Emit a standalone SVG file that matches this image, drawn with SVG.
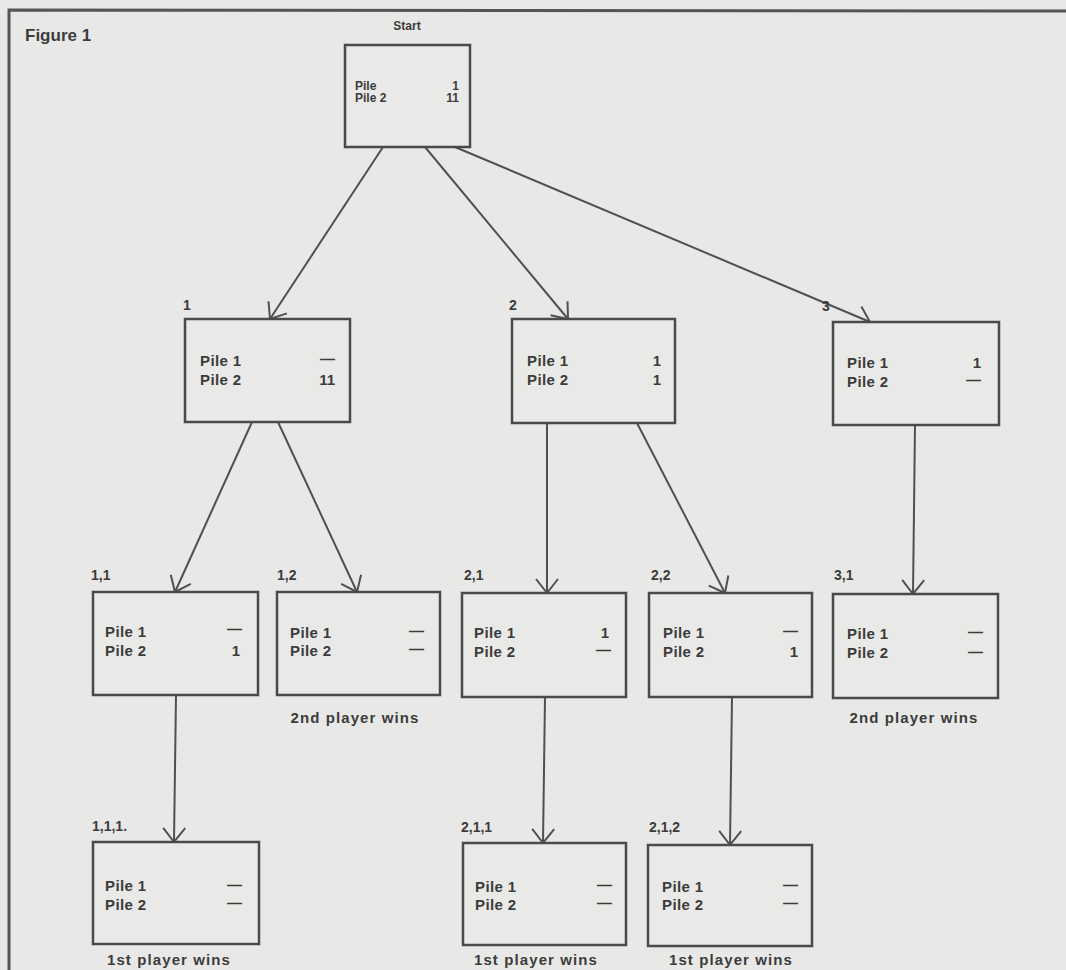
<svg xmlns="http://www.w3.org/2000/svg" width="1066" height="970" viewBox="0 0 1066 970">
<style>
.bg{fill:#e8e8e6}
.frame{fill:none;stroke:#555;stroke-width:3}
.box{fill:#e9e9e7;stroke:#4a4a4a;stroke-width:2.5}
.t{font-family:"Liberation Sans",Arial,sans-serif;font-weight:bold;fill:#3c3c3c}
.pile{font-size:15px;letter-spacing:0.4px}
.small{font-size:12px}
.num{font-size:15px;text-anchor:end}
.lab{font-size:14px}
.win{font-size:15px;letter-spacing:1.1px;text-anchor:middle}
.conn{fill:none;stroke:#505050;stroke-width:2}
</style>
<defs>
<marker id="arr" markerUnits="userSpaceOnUse" markerWidth="18" markerHeight="26" viewBox="0 0 18 26" refX="16" refY="13" orient="auto">
<path d="M2,2 L16,13 L2,24" fill="none" stroke="#505050" stroke-width="2"/>
</marker>
</defs>
<rect class="bg" x="0" y="0" width="1066" height="970"/>
<path class="frame" d="M9,972 L9,10 L1068,11"/>
<text class="t" x="25" y="41" font-size="17">Figure 1</text>

<g id="connectors">
<line class="conn" x1="383" y1="147" x2="270" y2="319" marker-end="url(#arr)"/>
<line class="conn" x1="425" y1="147" x2="568" y2="319" marker-end="url(#arr)"/>
<line class="conn" x1="455" y1="147" x2="870" y2="322" marker-end="url(#arr)"/>
<line class="conn" x1="252" y1="422" x2="175" y2="592" marker-end="url(#arr)"/>
<line class="conn" x1="278" y1="422" x2="357" y2="592" marker-end="url(#arr)"/>
<line class="conn" x1="547" y1="423" x2="547" y2="593" marker-end="url(#arr)"/>
<line class="conn" x1="637" y1="423" x2="725" y2="593" marker-end="url(#arr)"/>
<line class="conn" x1="915" y1="425" x2="913" y2="594" marker-end="url(#arr)"/>
<line class="conn" x1="176" y1="695" x2="174" y2="842" marker-end="url(#arr)"/>
<line class="conn" x1="545" y1="697" x2="543" y2="843" marker-end="url(#arr)"/>
<line class="conn" x1="732" y1="697" x2="730" y2="845" marker-end="url(#arr)"/>
</g>

<g id="start">
<text class="t small" x="407" y="30" text-anchor="middle">Start</text>
<rect class="box" x="345" y="45" width="125" height="102"/>
<text class="t small" x="355" y="90">Pile</text>
<text class="t small" x="355" y="102">Pile 2</text>
<text class="t small" x="459" y="90" text-anchor="end">1</text>
<text class="t small" x="459" y="102" text-anchor="end">11</text>
</g>

<g id="n1">
<text class="t lab" x="183" y="310">1</text>
<rect class="box" x="185" y="319" width="165" height="103"/>
<text class="t pile" x="200" y="366">Pile 1</text>
<text class="t pile" x="200" y="385">Pile 2</text>
<text class="t num" x="335" y="364">—</text>
<text class="t num" x="335" y="385">11</text>
</g>

<g id="n2">
<text class="t lab" x="509" y="310">2</text>
<rect class="box" x="512" y="319" width="163" height="104"/>
<text class="t pile" x="527" y="366">Pile 1</text>
<text class="t pile" x="527" y="385">Pile 2</text>
<text class="t num" x="661" y="366">1</text>
<text class="t num" x="661" y="385">1</text>
</g>

<g id="n3">
<text class="t lab" x="822" y="311">3</text>
<rect class="box" x="833" y="322" width="166" height="103"/>
<text class="t pile" x="847" y="368">Pile 1</text>
<text class="t pile" x="847" y="387">Pile 2</text>
<text class="t num" x="981" y="368">1</text>
<text class="t num" x="981" y="385">—</text>
</g>

<g id="n11">
<text class="t lab" x="91" y="580">1,1</text>
<rect class="box" x="93" y="592" width="165" height="103"/>
<text class="t pile" x="105" y="637">Pile 1</text>
<text class="t pile" x="105" y="656">Pile 2</text>
<text class="t num" x="242" y="634">—</text>
<text class="t num" x="240" y="656">1</text>
</g>

<g id="n12">
<text class="t lab" x="277" y="580">1,2</text>
<rect class="box" x="277" y="592" width="163" height="103"/>
<text class="t pile" x="290" y="638">Pile 1</text>
<text class="t pile" x="290" y="656">Pile 2</text>
<text class="t num" x="424" y="636">—</text>
<text class="t num" x="424" y="654">—</text>
<text class="t win" x="355" y="723">2nd player wins</text>
</g>

<g id="n21">
<text class="t lab" x="464" y="580">2,1</text>
<rect class="box" x="462" y="593" width="164" height="104"/>
<text class="t pile" x="474" y="638">Pile 1</text>
<text class="t pile" x="474" y="657">Pile 2</text>
<text class="t num" x="609" y="638">1</text>
<text class="t num" x="611" y="655">—</text>
</g>

<g id="n22">
<text class="t lab" x="651" y="580">2,2</text>
<rect class="box" x="649" y="593" width="163" height="104"/>
<text class="t pile" x="663" y="638">Pile 1</text>
<text class="t pile" x="663" y="657">Pile 2</text>
<text class="t num" x="798" y="636">—</text>
<text class="t num" x="798" y="657">1</text>
</g>

<g id="n31">
<text class="t lab" x="834" y="580">3,1</text>
<rect class="box" x="833" y="594" width="165" height="104"/>
<text class="t pile" x="847" y="639">Pile 1</text>
<text class="t pile" x="847" y="658">Pile 2</text>
<text class="t num" x="983" y="637">—</text>
<text class="t num" x="983" y="657">—</text>
<text class="t win" x="914" y="723">2nd player wins</text>
</g>

<g id="n111">
<text class="t lab" x="92" y="831">1,1,1.</text>
<rect class="box" x="93" y="842" width="166" height="102"/>
<text class="t pile" x="105" y="891">Pile 1</text>
<text class="t pile" x="105" y="910">Pile 2</text>
<text class="t num" x="242" y="890">—</text>
<text class="t num" x="242" y="908">—</text>
<text class="t win" x="169" y="965">1st player wins</text>
</g>

<g id="n211">
<text class="t lab" x="461" y="832">2,1,1</text>
<rect class="box" x="463" y="843" width="163" height="102"/>
<text class="t pile" x="475" y="892">Pile 1</text>
<text class="t pile" x="475" y="910">Pile 2</text>
<text class="t num" x="612" y="890">—</text>
<text class="t num" x="612" y="908">—</text>
<text class="t win" x="536" y="965">1st player wins</text>
</g>

<g id="n212">
<text class="t lab" x="649" y="832">2,1,2</text>
<rect class="box" x="648" y="845" width="164" height="101"/>
<text class="t pile" x="662" y="892">Pile 1</text>
<text class="t pile" x="662" y="910">Pile 2</text>
<text class="t num" x="798" y="890">—</text>
<text class="t num" x="798" y="908">—</text>
<text class="t win" x="731" y="965">1st player wins</text>
</g>
</svg>
